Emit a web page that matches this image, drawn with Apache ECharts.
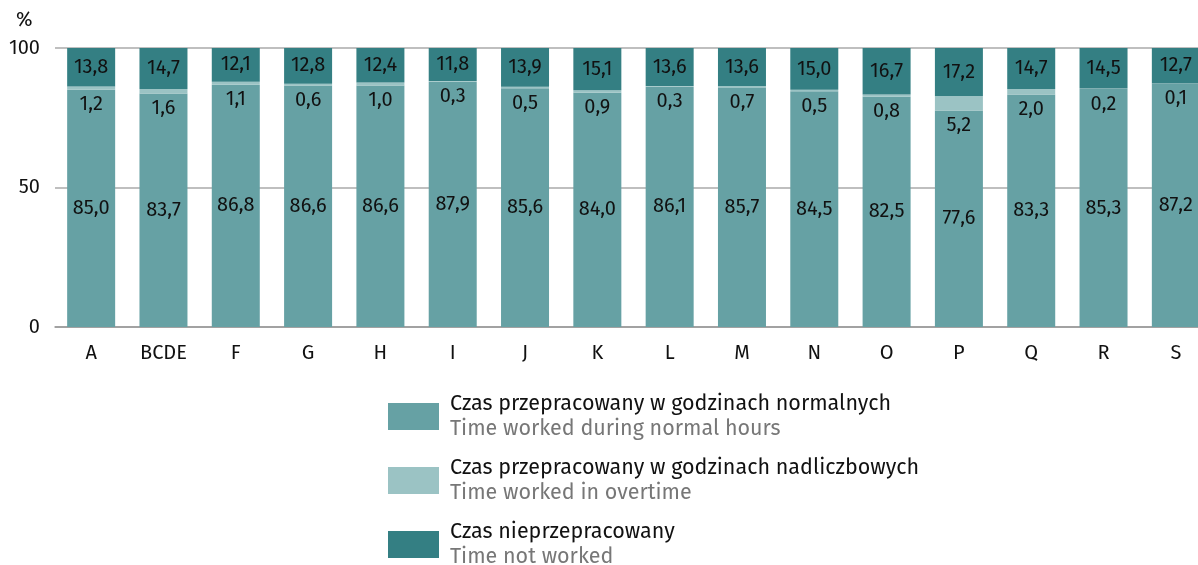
<!DOCTYPE html>
<html><head><meta charset="utf-8">
<script src="https://cdn.jsdelivr.net/npm/echarts@6/dist/echarts.min.js"></script>
<style>html,body{margin:0;padding:0;background:#fff}#c{width:1198px;height:565px}</style>
</head><body><div id="c"></div>
<script>
const categories = ['A','BCDE','F','G','H','I','J','K','L','M','N','O','P','Q','R','S'];
const normalHours = [85.0,83.7,86.8,86.6,86.6,87.9,85.6,84.0,86.1,85.7,84.5,82.5,77.6,83.3,85.3,87.2];
const overtime = [1.2,1.6,1.1,0.6,1.0,0.3,0.5,0.9,0.3,0.7,0.5,0.8,5.2,2.0,0.2,0.1];
const notWorked = [13.8,14.7,12.1,12.8,12.4,11.8,13.9,15.1,13.6,13.6,15.0,16.7,17.2,14.7,14.5,12.7];
const yTicks = [0,50,100];
const names = [
  ['Czas przepracowany w godzinach normalnych','Time worked during normal hours'],
  ['Czas przepracowany w godzinach nadliczbowych','Time worked in overtime'],
  ['Czas nieprzepracowany','Time not worked']
];
const FONT = 'Fira Sans, Noto Sans, sans-serif';
const fmt = p => p.value.toFixed(1).replace('.', ',');
const chart = echarts.init(document.getElementById('c'));
const lbl = (pos, dist) => ({show:true, position:pos, distance:dist||0, formatter:fmt, color:'#111', fontSize:20, fontFamily:FONT});
chart.setOption({
  animation:false,
  grid:{left:55, width:1157, top:48, height:279, outerBoundsMode:'none', containLabel:false},
  graphic:[{type:'text', left:16, top:10, style:{text:'%', fontSize:20, fontFamily:FONT, fill:'#111'}}],
  xAxis:{type:'category', data:categories, axisTick:{show:false},
    axisLine:{lineStyle:{color:'#999', width:1.5}},
    axisLabel:{color:'#111', fontSize:20, fontFamily:FONT, margin:16}},
  yAxis:{type:'value', min:0, max:100, interval:50,
    axisLabel:{color:'#111', fontSize:20, fontFamily:FONT, margin:15, customValues:yTicks},
    splitLine:{lineStyle:{color:'#aaa', width:1.5}}},
  legend:{orient:'vertical', left:388, top:393, height:240, width:700, padding:0, itemWidth:51, itemHeight:27, itemGap:17,
    icon:'rect', selectedMode:false,
    formatter: n => { const i = names.findIndex(x=>x[0]===n); return '{a|'+names[i][0]+'}\n{b|'+names[i][1]+'}'; },
    textStyle:{padding:[0,0,0,6], rich:{a:{fontSize:21.5, color:'#111', fontFamily:FONT, lineHeight:25}, b:{fontSize:21.5, color:'#777', fontFamily:FONT, lineHeight:25}}}
  },
  series:[
    {name:names[0][0], type:'bar', stack:'s', data:normalHours, barWidth:48, itemStyle:{color:'#66a1a4'}, label:lbl('inside')},
    {name:names[1][0], type:'bar', stack:'s', data:overtime, itemStyle:{color:'#9bc3c4'}, label:lbl('bottom',5)},
    {name:names[2][0], type:'bar', stack:'s', data:notWorked, itemStyle:{color:'#347f83'}, label:lbl('inside')}
  ]
});
</script></body></html>
